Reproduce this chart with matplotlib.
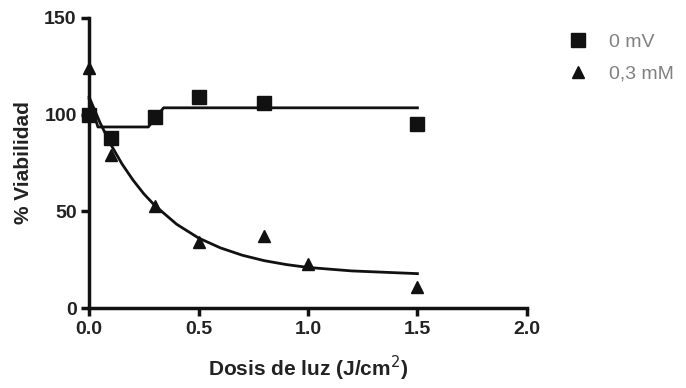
import matplotlib.pyplot as plt

plt.rcParams['font.family'] = ['Liberation Sans', 'DejaVu Sans']

# datos
dosis_0 = [0.0, 0.1, 0.3, 0.5, 0.8, 1.5]
viab_0 = [100, 88, 99, 109, 106, 95]
dosis_03 = [0.0, 0.0, 0.1, 0.3, 0.5, 0.8, 1.0, 1.5]
viab_03 = [124, 100, 79, 53, 34, 37, 23, 11]

# curvas de ajuste (puntos leidos sobre la linea)
ajuste0_x = [0.0, 0.04, 0.27, 0.34, 1.5]
ajuste0_y = [108, 93.6, 93.6, 103.5, 103.5]
ajuste03_x = [0, 0.05, 0.1, 0.15, 0.2, 0.25, 0.3, 0.4, 0.5, 0.6, 0.7, 0.8, 0.9, 1.0, 1.2, 1.5]
ajuste03_y = [109, 95.7, 84.3, 74.5, 66.2, 59, 53, 43.3, 36.2, 31.1, 27.3, 24.5, 22.5, 21, 19.2, 17.8]

fig = plt.figure(figsize=(6.86, 3.88), dpi=100)
ax = fig.add_axes([0.130, 0.206, 0.638, 0.748])

ax.plot(ajuste0_x, ajuste0_y, color='#111111', lw=2, clip_on=False)
ax.plot(ajuste03_x, ajuste03_y, color='#111111', lw=2, clip_on=False)
l1, = ax.plot(dosis_0, viab_0, 's', color='#111111', ms=9.5, clip_on=False, zorder=3)
l2, = ax.plot(dosis_03, viab_03, '^', color='#111111', ms=8, clip_on=False, zorder=3)

ax.set_xlim(0, 2.0)
ax.set_ylim(0, 150)
ax.set_xticks([0.0, 0.5, 1.0, 1.5, 2.0])
ax.set_xticklabels(['0.0', '0.5', '1.0', '1.5', '2.0'])
ax.set_yticks([0, 50, 100, 150])
for s in ['top', 'right']:
    ax.spines[s].set_visible(False)
for s in ['left', 'bottom']:
    ax.spines[s].set_linewidth(2.5)
    ax.spines[s].set_color('#111111')
ax.tick_params(width=2.5, length=6, color='#111111', labelsize=14, pad=3)
for t in ax.get_xticklabels() + ax.get_yticklabels():
    t.set_fontweight('bold')
    t.set_color('#222222')

ax.set_xlabel('Dosis de luz (J/cm$^2$)', fontsize=15, fontweight='bold', color='#222222', labelpad=12)
ax.set_ylabel('% Viabilidad', fontsize=15, fontweight='bold', color='#222222', labelpad=8)

fig.legend([l1, l2], ['0 mV', '0,3 mM'], loc='upper left', bbox_to_anchor=(0.80, 0.96),
           frameon=False, fontsize=14, labelcolor='#808080', handletextpad=1.0,
           labelspacing=0.75, handlelength=1.2)

fig.savefig('out.png', dpi=100)
